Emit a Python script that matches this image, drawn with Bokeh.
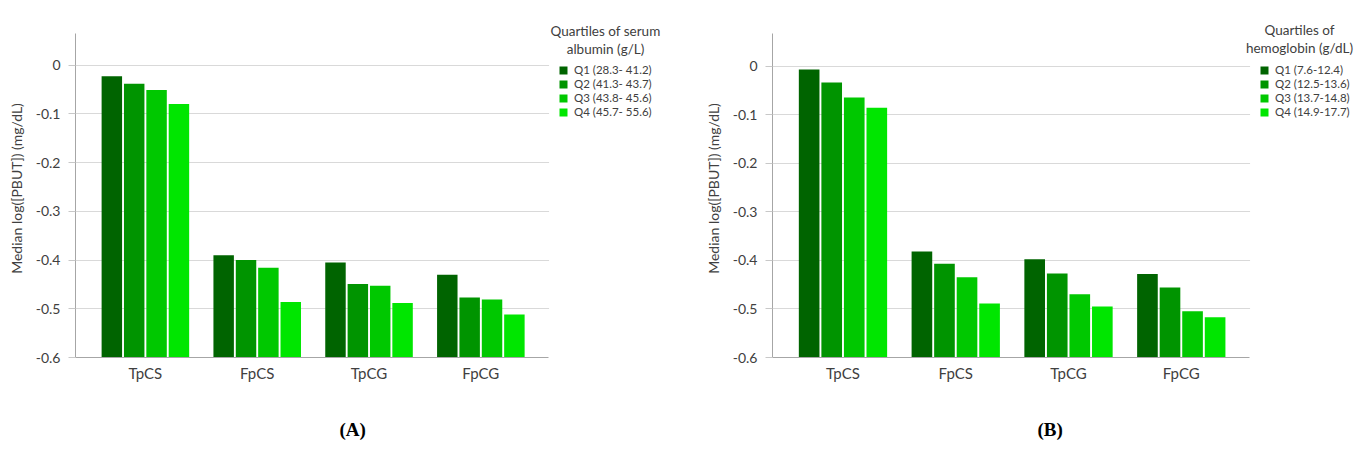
from bokeh.plotting import figure
from bokeh.models import (ColumnDataSource, Range1d, FixedTicker, Legend, LegendItem,
                          Label, Title, CustomJSTickFormatter, BoxAnnotation)
from bokeh.transform import dodge
from bokeh.layouts import row
from bokeh.embed import file_html
from bokeh.resources import INLINE

# ---------------- data ----------------
categories = ["TpCS", "FpCS", "TpCG", "FpCG"]

albumin_labels = ["Q1 (28.3- 41.2)", "Q2 (41.3- 43.7)", "Q3 (43.8- 45.6)", "Q4 (45.7- 55.6)"]
albumin_q1 = [-0.023, -0.390, -0.405, -0.430]
albumin_q2 = [-0.038, -0.400, -0.449, -0.477]
albumin_q3 = [-0.051, -0.416, -0.453, -0.481]
albumin_q4 = [-0.080, -0.486, -0.488, -0.512]

hemo_labels = ["Q1 (7.6-12.4)", "Q2 (12.5-13.6)", "Q3 (13.7-14.8)", "Q4 (14.9-17.7)"]
hemo_q1 = [-0.007, -0.382, -0.398, -0.428]
hemo_q2 = [-0.034, -0.407, -0.427, -0.456]
hemo_q3 = [-0.065, -0.435, -0.470, -0.505]
hemo_q4 = [-0.086, -0.489, -0.495, -0.517]

y_ticks = [0, -0.1, -0.2, -0.3, -0.4, -0.5, -0.6]
y_min = -0.6

colors = ["#006400", "#009400", "#00c800", "#00e600"]
offsets = [-0.3, -0.1, 0.1, 0.3]
cols = ["q1", "q2", "q3", "q4"]

FONT = "Lato"
TXT = "#404040"
H = 450
AX_H = 325            # pixel height of the drawn axis
EXTRA_TOP = 14        # frame space above the y axis (for legend title)
X_LO, X_HI = -0.625, 3.605   # extent of the category axis


def make_panel(series, labels, title_lines, panel_tag, y_top, left, top, axis_w,
               legend_w, title_cx, tag_offset):
    src = ColumnDataSource(dict(xpos=list(range(len(categories))), cat=categories,
                                q1=series[0], q2=series[1], q3=series[2], q4=series[3]))
    px_per_x = axis_w / (X_HI - X_LO)
    px_per_y = AX_H / (y_top - y_min)
    frame_h = AX_H + EXTRA_TOP
    p = figure(x_range=Range1d(X_LO, X_HI + legend_w / px_per_x),
               y_range=Range1d(y_min, y_top + EXTRA_TOP / px_per_y),
               width=left + axis_w + legend_w, height=H, output_backend="svg",
               toolbar_location=None, min_border_left=left, min_border_right=0,
               min_border_top=top - EXTRA_TOP,
               min_border_bottom=H - (top - EXTRA_TOP) - frame_h)
    p.outline_line_color = None

    # hide grid lines in the legend area
    p.add_layout(BoxAnnotation(left=X_HI + 0.005, fill_color="white", fill_alpha=1,
                               line_color=None, level="underlay"))

    rs = []
    for k, col in enumerate(cols):
        rs.append(p.vbar(x=dodge("xpos", offsets[k]), top=col, bottom=y_min,
                         width=0.183, source=src, fill_color=colors[k], line_color=None))

    p.yaxis.bounds = (y_min, y_top)
    p.yaxis.ticker = FixedTicker(ticks=y_ticks)
    p.yaxis.formatter = CustomJSTickFormatter(
        code="return Math.abs(tick) < 1e-9 ? '0' : tick.toFixed(1);")
    p.yaxis.axis_label = "Median log([PBUT]) (mg/dL)"
    p.yaxis.axis_label_text_font = FONT
    p.yaxis.axis_label_text_font_style = "normal"
    p.yaxis.axis_label_text_font_size = "14px"
    p.yaxis.axis_label_text_color = TXT
    p.yaxis.axis_label_standoff = 8
    p.yaxis.major_label_text_font = FONT
    p.yaxis.major_label_text_font_size = "14px"
    p.yaxis.major_label_text_color = TXT
    p.yaxis.major_label_standoff = 8
    p.yaxis.major_tick_out = 7
    p.yaxis.major_tick_in = 0
    p.yaxis.major_tick_line_color = "#c8c8c8"
    p.yaxis.minor_tick_line_color = None
    p.yaxis.axis_line_color = "#a6a6a6"

    p.xaxis.bounds = (X_LO, X_HI)
    p.xaxis.ticker = FixedTicker(ticks=list(range(len(categories))))
    p.xaxis.major_label_overrides = {i: c for i, c in enumerate(categories)}
    p.xaxis.major_label_text_font = FONT
    p.xaxis.major_label_text_font_size = "15px"
    p.xaxis.major_label_text_color = TXT
    p.xaxis.major_label_standoff = 0
    p.xaxis.major_tick_line_color = None
    p.xaxis.minor_tick_line_color = None
    p.xaxis.axis_line_color = "#a6a6a6"

    p.xgrid.grid_line_color = None
    p.ygrid.grid_line_color = "#d9d9d9"
    p.ygrid.ticker = FixedTicker(ticks=y_ticks)

    # legend (inside the frame, right of the axis area)
    leg = Legend(items=[LegendItem(label=labels[k], renderers=[rs[k]]) for k in range(4)],
                 location=(axis_w + 10, 239), border_line_color=None,
                 background_fill_alpha=0, padding=0, margin=0, spacing=1,
                 glyph_width=10, glyph_height=10, label_standoff=6,
                 label_text_font=FONT, label_text_font_size="11.5px",
                 label_text_color=TXT, label_height=12)
    p.add_layout(leg, "center")
    frame_bottom = top + AX_H          # page y of the frame bottom
    for i, line in enumerate(title_lines):
        p.add_layout(Label(x=title_cx, y=frame_bottom - 30 - 18 * i,
                           x_units="screen", y_units="screen",
                           text=line, text_align="center", text_baseline="middle",
                           text_font=FONT, text_font_size="13.5px", text_color=TXT))

    p.add_layout(Title(text=" ", text_font_size="13px"), "below")
    p.add_layout(Title(text=panel_tag, align="left", offset=tag_offset,
                       text_font="Liberation Serif", text_font_style="bold",
                       text_font_size="19px", text_color="black"), "below")
    return p


pA = make_panel([albumin_q1, albumin_q2, albumin_q3, albumin_q4], albumin_labels,
                ["Quartiles of serum", "albumin (g/L)"], "(A)", 0.065,
                left=75, top=32, axis_w=473, legend_w=142, title_cx=530, tag_offset=264)
pB = make_panel([hemo_q1, hemo_q2, hemo_q3, hemo_q4], hemo_labels,
                ["Quartiles of", "hemoglobin (g/dL)"], "(B)", 0.067,
                left=82, top=33, axis_w=477, legend_w=108, title_cx=527, tag_offset=265)

layout = row(pA, pB)
open("out.html", "w").write(file_html(layout, INLINE))
